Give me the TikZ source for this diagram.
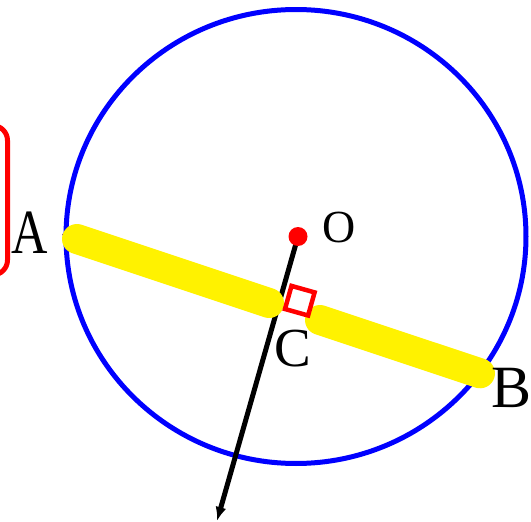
\documentclass[tikz,border=0pt]{standalone}
\usepackage{fontspec}
\setmainfont{Liberation Serif}
\usepackage{graphicx}
\usetikzlibrary{arrows.meta}
\definecolor{chordpurple}{RGB}{110,30,170}

\begin{document}
\begin{tikzpicture}[x=1pt, y=-1pt, line cap=round, line join=round]
% Chord figure, coordinates in pixels from the top left
\providecommand{\chordCircleColor}{blue}
\providecommand{\chordMarkColor}{red}
\providecommand{\chordHighlightColor}{yellow}
\providecommand{\chordLineColor}{chordpurple}
\providecommand{\chordThickWidth}{5pt}
\providecommand{\chordHighlightWidth}{30pt}
\useasboundingbox (0,0) rectangle (531,522);
% Points
\coordinate (O) at (298,236.5);
\coordinate (A) at (63,234.5);
\coordinate (B) at (482,374);
\coordinate (C) at (285,309);
\coordinate (tip) at (217,521);
\coordinate (hiA1) at (77,239);
\coordinate (hiA2) at (269,303);
\coordinate (hiB1) at (320,320);
\coordinate (hiB2) at (480,373.3);
% Frame on the left, mostly off the page
\draw[draw=\chordMarkColor, line width=\chordThickWidth, rounded corners=15pt] (-60,125.5) rectangle (7.5,275);
% Circle
\draw[draw=\chordCircleColor, line width=\chordThickWidth] (296,236.5) ellipse [x radius=230pt, y radius=227pt];
% Ray from the centre
\draw[line width=\chordThickWidth, -{Latex[length=14pt,width=11pt]}] (O) -- (tip);
% Chord and its two highlighted parts
\draw[draw=\chordLineColor, line width=2pt] (A) -- (B);
\begin{scope}[draw=\chordHighlightColor, line width=\chordHighlightWidth, line cap=round]
  \draw (hiA1) -- (hiA2);
  \draw (hiB1) -- (hiB2);
\end{scope}
% Right angle mark
\draw[draw=\chordMarkColor, line width=4.5pt, line cap=butt, line join=miter] (C) -- ++(6.5,-23.1) -- ++(23.1,6.5) -- ++(-6.5,23.1) -- cycle;
% Centre dot
\fill[\chordMarkColor] (O) circle [radius=9.5pt];
% Labels
\begin{scope}[inner sep=0pt]
  \node[font=\fontsize{63}{66}\selectfont] (labA) at (29.5,233) {\scalebox{0.8}[1]{A}};
  \node[font=\fontsize{60}{63}\selectfont] (labB) at (511.5,388) {B};
  \node[font=\fontsize{55}{58}\selectfont] (labC) at (292.5,349) {C};
  \node[font=\fontsize{46}{49}\selectfont] (labO) at (339.5,227.5) {O};
\end{scope}
\end{tikzpicture}
\end{document}
